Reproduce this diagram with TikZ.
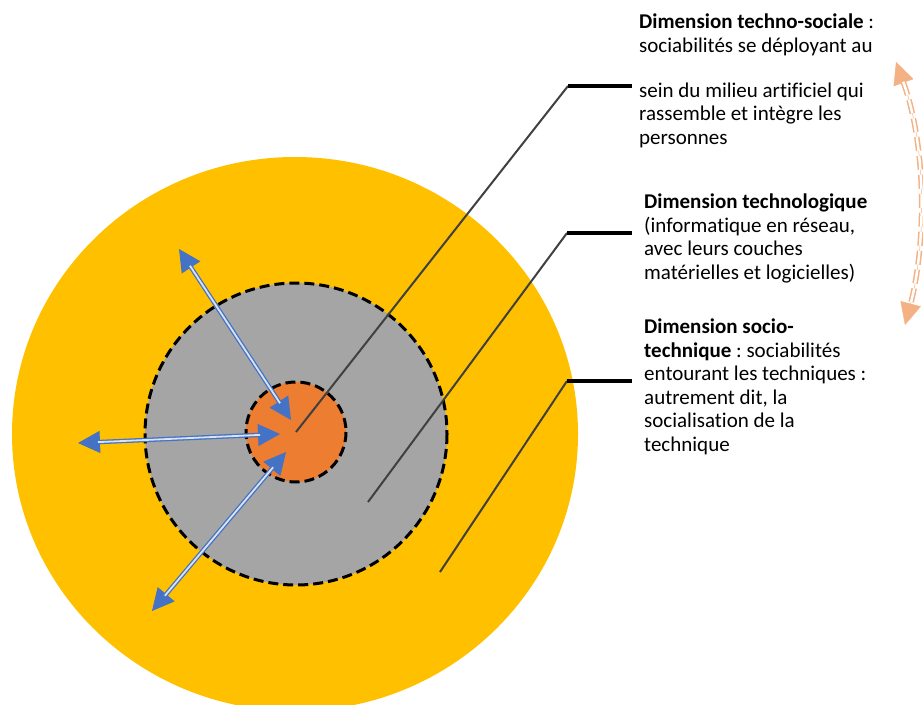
\documentclass[tikz,border=0pt]{standalone}
\usepackage{fontspec}
\setmainfont{Carlito}[Ligatures=NoCommon]
\frenchspacing
\usetikzlibrary{arrows.meta}
\definecolor{gul}{HTML}{FFC000}
\definecolor{graa}{HTML}{A5A5A5}
\definecolor{orange}{HTML}{ED7D31}
\definecolor{blaa}{HTML}{4472C4}
\definecolor{lysorange}{HTML}{F4B183}
\definecolor{moerk}{HTML}{404040}
\begin{document}
\begin{tikzpicture}[x=1pt,y=-1pt,
    tekst/.style={anchor=north west,inner sep=0pt,align=left,font=\fontsize{21}{23.5}\selectfont},
    kant/.style={draw=black,line width=3pt,dash pattern=on 10pt off 5pt},
    skraa/.style={draw=moerk,line width=2pt},
    vandret/.style={draw=black,line width=3.5pt},
    bluespids/.style={draw=blaa,line width=1pt,{Triangle[length=22pt,width=22pt]}-{Triangle[length=22pt,width=22pt]}},
    blaalinje/.style={draw=blaa,line width=1.3pt,double=blaa!20,double distance=1.8pt,shorten <=20pt,shorten >=20pt}]
  \useasboundingbox (0,0) rectangle (923,704); %ramme
  \clip (0,0) rectangle (923,704);
  \fill[gul] (295,434) ellipse [x radius=283,y radius=277]; %ydre cirkel
  \fill[graa] (296,434) circle (151); %mellem cirkel
  \draw[kant] (296,434) circle (151);
  \fill[orange] (296,432) circle (50); %kerne
  \draw[kant] (296,432) circle (50);
  % tekster
  \node[tekst] (tsoc) at (639,14) {\textbf{Dimension techno-sociale} :\\sociabilités se déployant au\\[21.5pt]sein du milieu artificiel qui\\rassemble et intègre les\\personnes};
  \node[tekst] (tlog) at (644,194) {\textbf{Dimension technologique}\\(informatique en réseau,\\avec leurs couches\\matérielles et logicielles)};
  \node[tekst] (ttek) at (644,319) {\textbf{Dimension socio-}\\\textbf{technique} : sociabilités\\entourant les techniques :\\autrement dit, la\\socialisation de la\\technique};
  % henvisningslinjer
  \coordinate (c1) at (296,432); \coordinate (j1) at (568,86);
  \coordinate (c2) at (368,502); \coordinate (j2) at (567,233);
  \coordinate (c3) at (440,572); \coordinate (j3) at (567,381);
  \draw[skraa] (c1) -- (j1);
  \draw[skraa] (c2) -- (j2);
  \draw[skraa] (c3) -- (j3);
  \draw[vandret] (j1) -- ([xshift=-7pt]j1 -| tsoc.west);
  \draw[vandret] (j2) -- ([xshift=-12pt]j2 -| tlog.west);
  \draw[vandret] (j3) -- ([xshift=-12pt]j3 -| ttek.west);
  % blaa pile
  \coordinate (p1a) at (179,249); \coordinate (p1b) at (291,420);
  \coordinate (p2a) at (78,443); \coordinate (p2b) at (280,434);
  \coordinate (p3a) at (152,611); \coordinate (p3b) at (286,452);
  \draw[bluespids] (p1a) -- (p1b);
  \draw[blaalinje] (p1a) -- (p1b);
  \draw[bluespids] (p2a) -- (p2b);
  \draw[blaalinje] (p2a) -- (p2b);
  \draw[bluespids] (p3a) -- (p3b);
  \draw[blaalinje] (p3a) -- (p3b);
  % orange bue
  \coordinate (b1) at (896,62); \coordinate (b2) at (905,325);
  \draw[lysorange,line width=0.5pt,{Triangle[length=22pt,width=21pt]}-{Triangle[length=22pt,width=21pt]}] (b1) .. controls (928,150) and (925,250) .. (b2);
  \draw[lysorange,line width=1.5pt,double=white,double distance=2.5pt,dash pattern=on 14pt off 5pt,shorten <=21pt,shorten >=21pt] (b1) .. controls (928,150) and (925,250) .. (b2);
\end{tikzpicture}
\end{document}
